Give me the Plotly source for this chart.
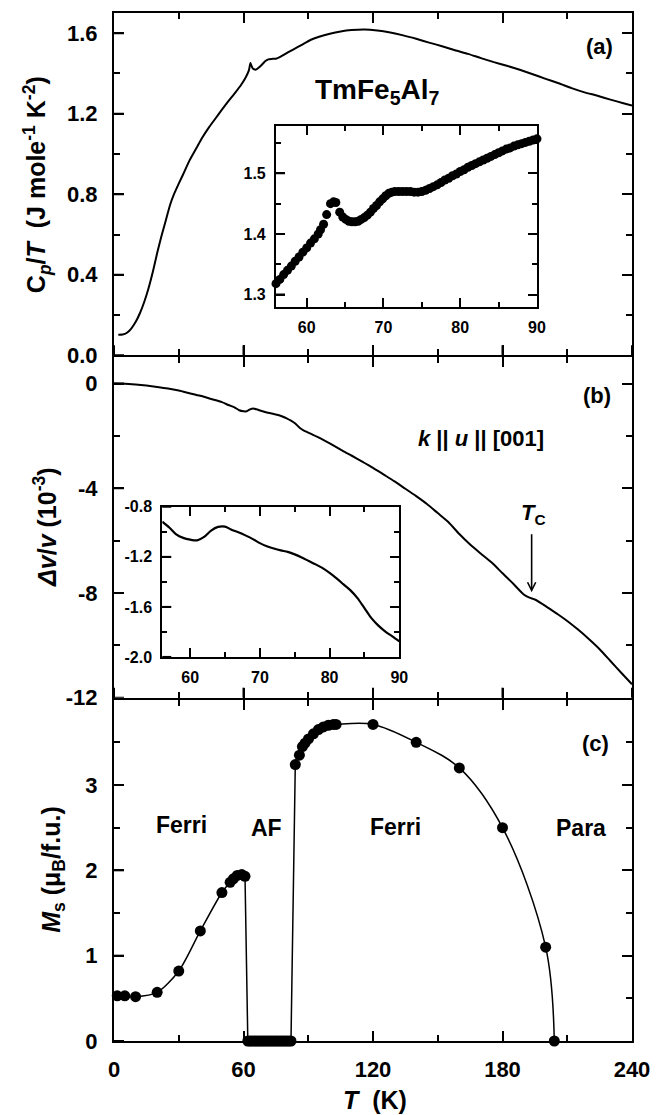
import plotly.graph_objects as go

# ---------------- Panel (a): Cp/T vs T ----------------
T_cp = [2, 4, 6, 8, 10, 12, 14, 16, 18, 20, 22, 24, 26, 28, 30, 32, 35, 38, 41, 44,
        47, 50, 53, 56, 59, 61, 62.5, 63.2, 63.6, 64.3, 65.8, 67, 68.5, 70, 71.5, 73,
        75, 77, 80, 83, 87, 91, 95, 100, 105, 110, 116, 122, 128, 134, 140, 146, 152,
        158, 164, 170, 176, 182, 188, 194, 200, 206, 212, 218, 224, 230, 236, 240]
cp_over_T = [0.102, 0.103, 0.112, 0.133, 0.165, 0.209, 0.265, 0.333, 0.415, 0.508,
             0.592, 0.670, 0.748, 0.805, 0.853, 0.898, 0.968, 1.026, 1.083, 1.132,
             1.176, 1.220, 1.262, 1.302, 1.345, 1.380, 1.415, 1.452, 1.440, 1.424,
             1.419, 1.428, 1.443, 1.460, 1.470, 1.472, 1.473, 1.482, 1.501, 1.518,
             1.542, 1.566, 1.582, 1.597, 1.608, 1.615, 1.618, 1.613, 1.603, 1.589,
             1.572, 1.553, 1.535, 1.515, 1.497, 1.476, 1.456, 1.438, 1.418, 1.396,
             1.373, 1.351, 1.327, 1.306, 1.289, 1.270, 1.252, 1.240]

# inset (a)
T_cp_inset = [56.0, 56.5, 57.0, 57.5, 58.0, 58.5, 59.0, 59.5, 60.0, 60.5, 61.0, 61.5,
              61.8, 62.2, 62.6, 63.1, 63.5, 63.8, 64.3, 64.7, 65.1, 65.5, 65.9, 66.3,
              66.7, 67.1, 67.5, 67.9, 68.3, 68.7, 69.1, 69.5, 69.9, 70.3, 70.7, 71.1,
              71.5, 72.0, 72.5, 73.0, 73.5, 74.0, 74.5, 75.0, 75.5, 76.0, 76.5, 77.0,
              77.5, 78.0, 78.5, 79.0, 79.5, 80.0, 80.5, 81.0, 81.5, 82.0, 82.5, 83.0,
              83.5, 84.0, 84.5, 85.0, 85.5, 86.0, 86.5, 87.0, 87.5, 88.0, 88.5, 89.0,
              89.5, 90.0]
cp_inset = [1.318, 1.325, 1.333, 1.340, 1.347, 1.355, 1.362, 1.370, 1.377, 1.385,
            1.392, 1.400, 1.407, 1.416, 1.432, 1.450, 1.453, 1.452, 1.436, 1.428,
            1.424, 1.421, 1.420, 1.420, 1.421, 1.424, 1.427, 1.431, 1.436, 1.442,
            1.447, 1.453, 1.458, 1.463, 1.467, 1.469, 1.470, 1.470, 1.470, 1.470,
            1.470, 1.469, 1.469, 1.470, 1.472, 1.475, 1.478, 1.481, 1.485, 1.489,
            1.492, 1.496, 1.499, 1.503, 1.506, 1.510, 1.513, 1.516, 1.519, 1.522,
            1.525, 1.528, 1.531, 1.534, 1.537, 1.540, 1.542, 1.545, 1.547, 1.549,
            1.551, 1.553, 1.555, 1.557]

# ---------------- Panel (b): dv/v vs T ----------------
T_dv = [0, 5, 10, 15, 20, 25, 30, 35, 40, 45, 50, 53, 56, 58, 60, 61.5, 63, 64.5, 66,
        68, 70, 72, 74, 76, 78, 80, 82, 84, 86, 88, 90, 94, 98, 102, 106, 110, 115,
        120, 125, 130, 135, 140, 145, 150, 155, 160, 165, 170, 175, 180, 185, 190,
        192.5, 195, 200, 205, 210, 215, 220, 225, 230, 235, 240]
dv = [0.0, -0.01, -0.04, -0.08, -0.13, -0.19, -0.27, -0.37, -0.47, -0.59, -0.71, -0.82,
      -0.92, -1.02, -1.06, -1.06, -0.99, -0.955, -0.985, -1.04, -1.09, -1.13, -1.165,
      -1.20, -1.26, -1.33, -1.42, -1.53, -1.69, -1.80, -1.875, -2.03, -2.20, -2.38,
      -2.57, -2.75, -2.98, -3.22, -3.48, -3.74, -4.02, -4.30, -4.60, -4.95, -5.30,
      -5.75, -6.15, -6.50, -6.84, -7.25, -7.65, -8.07, -8.18, -8.25, -8.50, -8.78,
      -9.07, -9.40, -9.76, -10.15, -10.60, -11.05, -11.49]

# inset (b)
T_dv_inset = [56, 57, 58, 59, 60, 61, 62, 63, 64, 65, 66, 67, 68, 69, 70, 71, 72, 73,
              74, 75, 76, 77, 78, 79, 80, 81, 82, 83, 84, 85, 86, 87, 88, 89, 90]
dv_inset = [-0.919, -0.965, -1.020, -1.048, -1.062, -1.068, -1.040, -0.990, -0.960,
            -0.958, -0.985, -1.005, -1.030, -1.058, -1.090, -1.115, -1.133, -1.148,
            -1.160, -1.180, -1.205, -1.233, -1.260, -1.290, -1.328, -1.372, -1.420,
            -1.468, -1.530, -1.610, -1.690, -1.750, -1.797, -1.835, -1.875]

# ---------------- Panel (c): Ms vs T ----------------
T_ferri_low = [1.5, 5, 10, 20, 30, 40, 50, 53.8, 55.3, 57.1, 59.2, 60.7]
M_ferri_low = [0.53, 0.53, 0.52, 0.57, 0.82, 1.29, 1.74, 1.86, 1.90, 1.94, 1.95, 1.93]
T_af = [62, 63, 64, 65, 66, 67, 68, 69, 70, 71, 72, 73, 74, 75, 76, 77, 78, 79, 80, 81, 82]
M_af = [0, 0, 0, 0, 0, 0, 0, 0, 0, 0, 0, 0, 0, 0, 0, 0, 0, 0, 0, 0, 0]
T_ferri_high = [84, 85.9, 87.3, 88.5, 90.1, 92.4, 94.7, 97.0, 99.3, 101.6, 102.9,
                120, 140, 160, 180, 200, 204]
M_ferri_high = [3.24, 3.35, 3.45, 3.49, 3.54, 3.60, 3.65, 3.68, 3.70, 3.71, 3.71,
                3.71, 3.50, 3.20, 2.50, 1.10, 0.0]

# ---------------- tick values ----------------
T_ticks = [0, 60, 120, 180, 240]
Ms_ticks = [0, 1, 2, 3]
dv_ticks = [-12, -8, -4, 0]
dv_ticktext = ["-12", "-8", "-4", "0"]
cp_ticks = [0.0, 0.4, 0.8, 1.2, 1.6]
cp_inset_ticks = [1.3, 1.4, 1.5]
dv_inset_ticks = [-2.0, -1.6, -1.2, -0.8]
dv_inset_ticktext = ["-2.0", "-1.6", "-1.2", "-0.8"]

FONT = "Liberation Sans, Arial, sans-serif"

fig = go.Figure()

# panel (a)
fig.add_trace(go.Scatter(x=T_cp, y=cp_over_T, mode="lines", xaxis="x3", yaxis="y3",
                         line=dict(color="black", width=2, shape="spline", smoothing=0.5),
                         showlegend=False))
fig.add_trace(go.Scatter(x=T_cp_inset, y=cp_inset, mode="markers", xaxis="x4", yaxis="y4",
                         marker=dict(color="black", size=9), cliponaxis=False,
                         showlegend=False))
# panel (b)
fig.add_trace(go.Scatter(x=T_dv, y=dv, mode="lines", xaxis="x2", yaxis="y2",
                         line=dict(color="black", width=2, shape="spline", smoothing=0.6),
                         showlegend=False))
fig.add_trace(go.Scatter(x=T_dv_inset, y=dv_inset, mode="lines", xaxis="x5", yaxis="y5",
                         line=dict(color="black", width=2.2, shape="spline", smoothing=0.8),
                         showlegend=False))
# panel (c) lines
fig.add_trace(go.Scatter(x=T_ferri_low, y=M_ferri_low, mode="lines", xaxis="x", yaxis="y",
                         line=dict(color="black", width=1.5, shape="spline", smoothing=0.8),
                         showlegend=False))
fig.add_trace(go.Scatter(x=[T_ferri_low[-1]] + T_af + [T_ferri_high[0]],
                         y=[M_ferri_low[-1]] + M_af + [M_ferri_high[0]],
                         mode="lines", xaxis="x", yaxis="y",
                         line=dict(color="black", width=1.5), showlegend=False))
fig.add_trace(go.Scatter(x=T_ferri_high, y=M_ferri_high, mode="lines", xaxis="x", yaxis="y",
                         line=dict(color="black", width=1.5, shape="spline", smoothing=1.0),
                         showlegend=False))
fig.add_trace(go.Scatter(x=T_ferri_low + T_af + T_ferri_high,
                         y=M_ferri_low + M_af + M_ferri_high,
                         mode="markers", xaxis="x", yaxis="y", cliponaxis=False,
                         marker=dict(color="black", size=11), showlegend=False))


def base_axis(**kw):
    d = dict(showline=True, linecolor="black", linewidth=2, mirror="ticks",
             showgrid=False, zeroline=False, ticks="inside", ticklen=10, tickwidth=2,
             tickcolor="black",
             tickfont=dict(family=FONT, size=22, color="black", weight="bold"))
    d.update(kw)
    return d


def minor(dt, t0=0, ln=6):
    return dict(ticks="inside", ticklen=ln, tickwidth=1.5, tickcolor="black",
                tickmode="linear", tick0=t0, dtick=dt, showgrid=False)


small_font = dict(family=FONT, size=16, color="black", weight="bold")

# panel domains (pixel rows: top 5, bottom 1041, boundaries drawn at 351 and 696)
H = 1036.0
dom_a = [(1041 - 350) / H, 1.0]
dom_b = [(1041 - 695) / H, (1041 - 352) / H]
dom_c = [0.0, (1041 - 697) / H]

fig.update_layout(
    width=665, height=1115,
    margin=dict(l=114, r=33, t=5, b=74),
    paper_bgcolor="white", plot_bgcolor="white",
    font=dict(family=FONT, color="black"),
    xaxis=base_axis(domain=[0, 1], anchor="y", range=[0, 240], tickmode="array",
                    tickvals=T_ticks, minor=minor(30), ticklabelstandoff=8),
    yaxis=base_axis(domain=dom_c, anchor="x", range=[0, 4], tickmode="array",
                    tickvals=Ms_ticks, minor=minor(0.5), ticklabelstandoff=10),
    xaxis2=base_axis(domain=[0, 1], anchor="y2", range=[0, 240], tickmode="array",
                     tickvals=T_ticks, minor=minor(30), showticklabels=False),
    yaxis2=base_axis(domain=dom_b, anchor="x2", range=[-12, 1], tickmode="array",
                     tickvals=dv_ticks, ticktext=dv_ticktext, minor=minor(2),
                     ticklabelstandoff=10),
    xaxis3=base_axis(domain=[0, 1], anchor="y3", range=[0, 240], tickmode="array",
                     tickvals=T_ticks, minor=minor(30), showticklabels=False),
    yaxis3=base_axis(domain=dom_a, anchor="x3", range=[0, 1.7], tickmode="array",
                     tickvals=cp_ticks, tickformat=".1f", minor=minor(0.2),
                     ticklabelstandoff=10),
    # inset (a)
    xaxis4=base_axis(domain=[0.3127, 0.8166], anchor="y4", range=[56, 90],
                     tickmode="linear", tick0=0, dtick=10, ticklen=9, tickfont=small_font,
                     minor=minor(5, 0, 5), ticklabelstandoff=5),
    yaxis4=base_axis(domain=[0.7143, 0.8900], anchor="x4", range=[1.28, 1.578],
                     tickmode="array", tickvals=cp_inset_ticks, tickformat=".1f", ticklen=9,
                     tickfont=small_font, minor=minor(0.05, 1.3, 5), ticklabelstandoff=5),
    # inset (b)
    xaxis5=base_axis(domain=[0.0932, 0.5508], anchor="y5", range=[56, 90],
                     tickmode="linear", tick0=0, dtick=10, ticklen=9, tickfont=small_font,
                     minor=minor(5, 0, 5), ticklabelstandoff=5),
    yaxis5=base_axis(domain=[0.3736, 0.5196], anchor="x5", range=[-2.0, -0.8],
                     tickmode="array", tickvals=dv_inset_ticks, ticktext=dv_inset_ticktext,
                     ticklen=9, tickfont=small_font, minor=minor(0.2, -2.0, 5),
                     ticklabelstandoff=5),
)

# major tick marks on the left / lower sides, placed through each axis' own scale
shapes = []


def left_ticks(vals, xr, yr, length):
    for v in vals:
        shapes.append(dict(type="line", xref=xr + " domain", yref=yr, xsizemode="pixel",
                           xanchor=0, x0=0, x1=length, y0=v, y1=v, layer="above",
                           line=dict(color="black", width=2)))


def bottom_ticks(vals, xr, yr, length):
    for v in vals:
        shapes.append(dict(type="line", xref=xr, yref=yr + " domain", ysizemode="pixel",
                           yanchor=0, y0=0, y1=length, x0=v, x1=v, layer="above",
                           line=dict(color="black", width=2)))


left_ticks(Ms_ticks, "x", "y", 10)
left_ticks(dv_ticks, "x2", "y2", 10)
left_ticks(cp_ticks, "x3", "y3", 10)
left_ticks(cp_inset_ticks, "x4", "y4", 9)
left_ticks(dv_inset_ticks, "x5", "y5", 9)
bottom_ticks(T_ticks, "x2", "y2", 10)
bottom_ticks(T_ticks, "x3", "y3", 10)

bold = dict(family=FONT, color="black", weight="bold")
ann = []


def txt(text, x, y, xref, yref, size, **kw):
    d = dict(text=text, x=x, y=y, xref=xref, yref=yref, showarrow=False,
             font=dict(size=size, **bold), xanchor="center", yanchor="middle")
    d.update(kw)
    ann.append(d)


# panel labels and texts
txt("(a)", 225, 1.536, "x3", "y3", 22)
txt("(b)", 224, -0.45, "x2", "y2", 22)
txt("(c)", 223, 3.49, "x", "y", 22)
txt("TmFe<sub>5</sub>Al<sub>7</sub>", 122, 1.31, "x3", "y3", 28)
txt("<i>k</i> || <i>u</i> || [001]", 170, -2.1, "x2", "y2", 22)
txt("<i>T</i><sub>C</sub>", 194.5, -5.0, "x2", "y2", 22)
txt("Ferri", 31.4, 2.53, "x", "y", 23)
txt("AF", 70.8, 2.50, "x", "y", 23)
txt("Ferri", 130.5, 2.51, "x", "y", 23)
txt("Para", 216.6, 2.50, "x", "y", 23)

# arrow at Tc
ann.append(dict(x=193.5, y=-7.97, ax=193.5, ay=-5.7, xref="x2", yref="y2",
                axref="x2", ayref="y2", text="", showarrow=True, arrowhead=5,
                arrowsize=1.0, arrowwidth=1.6, arrowcolor="black"))

# axis titles
txt("C<sub><i>p</i></sub>/<i>T</i>\u00a0 (J mole<sup>-1</sup> K<sup>-2</sup>)",
    (36.5 - 114) / 518, (1041 - 178) / 1036, "paper", "paper", 25, textangle=-90)
txt("<i>\u0394v</i>/<i>v</i> (10<sup>-3</sup>)",
    (45 - 114) / 518, 0.5, "paper", "paper", 25, textangle=-90)
txt("<i>M</i><sub>s</sub> (\u03bc<sub>B</sub>/f.u.)",
    (53 - 114) / 518, (1041 - 868.5) / 1036, "paper", "paper", 25, textangle=-90)
txt("<i>T</i>\u00a0 (K)", (375 - 114) / 518, (1041 - 1100) / 1036, "paper", "paper", 25)

fig.update_layout(annotations=ann, shapes=shapes)

fig.write_html("out.html", config={"displayModeBar": False},
               post_script="document.body.style.margin='0';document.body.style.overflow='hidden';")
